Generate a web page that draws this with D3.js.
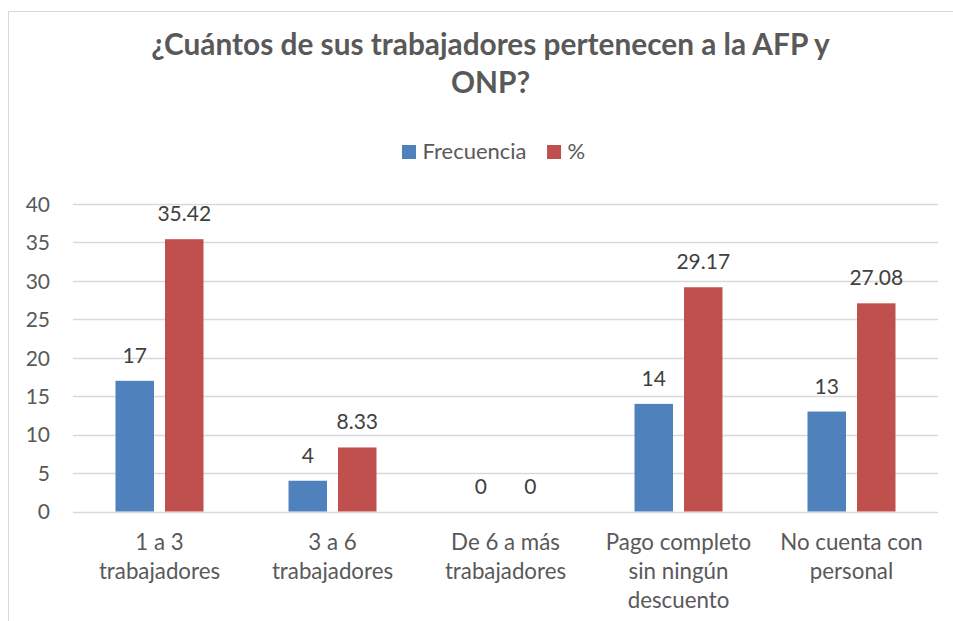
<!DOCTYPE html>
<html>
<head>
<meta charset="utf-8">
<script src="https://cdn.jsdelivr.net/npm/d3@7"></script>
<style>
  body { margin: 0; background: #fff; }
  svg { display: block; font-family: Lato, "Open Sans", sans-serif; }
</style>
</head>
<body>
<div id="chart"></div>
<script>
// chart values
const titleLines = ["¿Cuántos de sus trabajadores pertenecen a la AFP y", "ONP?"];
const categories = [
  "1 a 3\ntrabajadores",
  "3 a 6\ntrabajadores",
  "De 6 a más\ntrabajadores",
  "Pago completo\nsin ningún\ndescuento",
  "No cuenta con\npersonal"
];
const seriesNames = ["Frecuencia", "%"];
const frecuencia = [17, 4, 0, 14, 13];
const porcentaje = [35.42, 8.33, 0, 29.17, 27.08];
const yTicks = [0, 5, 10, 15, 20, 25, 30, 35, 40];
const colors = ["#4f81bd", "#c0504d"];

const width = 953, height = 621;
const margin = { left: 73, right: 15, top: 204, bottom: 109.5 };

const svg = d3.select("#chart").append("svg")
  .attr("width", width)
  .attr("height", height);

// chart area border (continues past right/bottom edges)
svg.append("rect")
  .attr("x", 8.5).attr("y", 11.5)
  .attr("width", 980).attr("height", 640)
  .attr("fill", "none")
  .attr("stroke", "#d9d9d9")
  .attr("stroke-width", 1);

const x = d3.scaleBand()
  .domain(categories)
  .range([margin.left, width - margin.right])
  .paddingInner(0).paddingOuter(0);

const y = d3.scaleLinear()
  .domain([0, 40])
  .range([height - margin.bottom, margin.top]);

// gridlines
svg.append("g")
  .selectAll("line")
  .data(yTicks)
  .enter()
  .append("line")
  .attr("x1", margin.left)
  .attr("x2", width - margin.right)
  .attr("y1", d => Math.round(y(d)) + 0.5)
  .attr("y2", d => Math.round(y(d)) + 0.5)
  .attr("stroke", "#d9d9d9")
  .attr("stroke-width", 1.5);

// y axis labels
const yAxis = svg.append("g")
  .attr("transform", `translate(${margin.left - 23},0)`)
  .call(d3.axisLeft(y).tickValues(yTicks).tickSize(0).tickPadding(0));
yAxis.select(".domain").remove();
yAxis.selectAll("text")
  .attr("fill", "#595959")
  .attr("font-size", 21)
  .attr("font-family", "Lato, sans-serif")
  .attr("dy", "0.35em");

// bars
const barW = 38.5, gap = 11;
const series = [frecuencia, porcentaje];
const groupOffset = (s) => x.bandwidth() / 2 + (s === 0 ? -gap / 2 - barW : gap / 2);

series.forEach((vals, s) => {
  const g = svg.append("g");
  g.selectAll("rect")
    .data(vals)
    .enter()
    .append("rect")
    .attr("x", (d, i) => x(categories[i]) + groupOffset(s))
    .attr("y", d => y(d))
    .attr("width", barW)
    .attr("height", d => y(0) - y(d))
    .attr("fill", colors[s]);

  g.selectAll("text")
    .data(vals)
    .enter()
    .append("text")
    .attr("x", (d, i) => x(categories[i]) + groupOffset(s) + barW / 2)
    .attr("y", d => y(d) - 18)
    .attr("text-anchor", "middle")
    .attr("font-size", 21)
    .attr("fill", "#404040")
    .text(d => d);
});

// x axis category labels
const xl = svg.append("g");
categories.forEach(c => {
  const t = xl.append("text")
    .attr("text-anchor", "middle")
    .attr("font-size", 22.3)
    .attr("fill", "#595959");
  c.split("\n").forEach((line, i) => {
    t.append("tspan")
      .attr("x", x(c) + x.bandwidth() / 2)
      .attr("y", 550 + i * 28.8)
      .text(line);
  });
});

// title
const title = svg.append("text")
  .attr("text-anchor", "middle")
  .attr("font-size", 29.8)
  .attr("font-weight", "bold")
  .attr("fill", "#595959");
titleLines.forEach((line, i) => {
  title.append("tspan")
    .attr("x", 490.5)
    .attr("y", 55 + i * 37.5)
    .text(line);
});

// legend
const legend = svg.append("g").attr("transform", "translate(402,145)");
let lx = 0;
seriesNames.forEach((name, i) => {
  const item = legend.append("g").attr("transform", `translate(${lx},0)`);
  item.append("rect")
    .attr("width", 14).attr("height", 14)
    .attr("fill", colors[i]);
  const txt = item.append("text")
    .attr("x", 20.5).attr("y", 14)
    .attr("font-size", 22)
    .attr("fill", "#595959")
    .text(name);
  lx += 20.5 + txt.node().getComputedTextLength() + 20.5;
});
</script>
</body>
</html>
